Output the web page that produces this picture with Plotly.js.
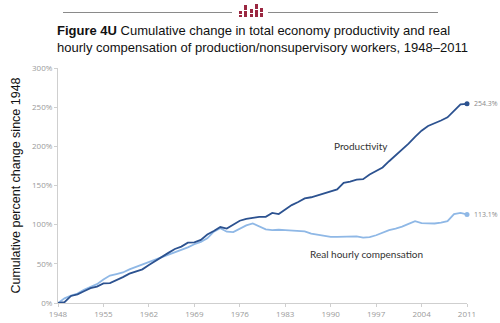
<!DOCTYPE html>
<html>
<head>
<meta charset="utf-8">
<script src="https://cdn.plot.ly/plotly-3.0.1.min.js"></script>
<style>html,body{margin:0;padding:0;background:#fff;}#chart{width:500px;height:323px;}</style>
</head>
<body>
<div id="chart"></div>
<script>
const years = [];
for (let y = 1948; y <= 2011; y++) years.push(y);

const productivity = [
  0, 1, 9, 11, 15, 19, 21, 25, 25.5, 29,
  33, 37.5, 40, 43, 48.5, 54, 59, 64, 69, 72,
  77, 77.5, 80.5, 87.5, 92, 97, 95, 100, 105, 107.5,
  109, 110, 110, 115, 113.5, 119.5, 125, 129, 133.5, 135,
  137.5, 140, 142.5, 145, 153.5, 155, 157.5, 158, 164, 168,
  173, 181, 188.5, 195, 203.5, 212, 220, 226, 229, 233,
  237, 245, 253.5, 254.3
];

const compensation = [
  0, 6, 9.5, 12, 17, 21, 24, 30, 35, 37,
  39, 43, 46, 49.5, 53, 56, 59, 62, 65, 68,
  71, 75, 78, 82.5, 91, 95.5, 91, 90.5, 95, 99,
  101.5, 97.5, 94, 93, 93.5, 93, 92.5, 92, 91.5, 88.5,
  87, 86, 84.5, 84.3, 84.6, 84.8, 85, 83.5, 84, 86.5,
  90, 93, 95, 97.5, 101, 104.5, 102, 101.5, 101.5, 102.5,
  104.5, 113.5, 115, 113.1
];

const xTicks = [1948, 1955, 1962, 1969, 1976, 1983, 1990, 1997, 2004, 2011];
const yTicks = [0, 50, 100, 150, 200, 250, 300];

const darkBlue = '#2c5290';
const lightBlue = '#8fb8e6';

const lastIdx = years.length - 1;

const traces = [
  {x: years, y: compensation, mode: 'lines', line: {color: lightBlue, width: 1.8}, hoverinfo: 'skip'},
  {x: years, y: productivity, mode: 'lines', line: {color: darkBlue, width: 1.8}, hoverinfo: 'skip'},
  {x: [years[lastIdx]], y: [productivity[lastIdx]], mode: 'markers', marker: {color: darkBlue, size: 5}, cliponaxis: false},
  {x: [years[lastIdx]], y: [compensation[lastIdx]], mode: 'markers', marker: {color: lightBlue, size: 5}, cliponaxis: false}
];

// pixel -> paper helpers (plot area: x 58..467, y 68..303)
const L = 58, R = 467, T = 68, B = 303;
const px = v => (v - L) / (R - L);
const py = v => (B - v) / (B - T);

const maroon = '#9b2741';
const shapes = [
  {type: 'line', xref: 'paper', yref: 'paper', x0: px(63), x1: px(232), y0: py(12.5), y1: py(12.5), line: {color: '#8a8a8a', width: 1}},
  {type: 'line', xref: 'paper', yref: 'paper', x0: px(268), x1: px(438), y0: py(12.5), y1: py(12.5), line: {color: '#8a8a8a', width: 1}}
];
const logoRects = [
  [239, 11, 242, 14], [239, 15, 242, 17],
  [244, 5, 247, 10], [244, 11, 247, 17],
  [250, 9, 253, 13], [250, 14, 253, 17],
  [255, 4, 258, 9], [255, 10, 258, 17],
  [260, 8, 263, 12], [260, 13, 263, 17]
];
logoRects.forEach(r => shapes.push({
  type: 'rect', xref: 'paper', yref: 'paper',
  x0: px(r[0]), x1: px(r[2]), y0: py(r[3]), y1: py(r[1]),
  fillcolor: maroon, line: {width: 0}
}));

const tickFont = {family: 'Open Sans, sans-serif', size: 8, color: '#9a9a9a'};

const annotations = [
  {xref: 'paper', yref: 'paper', x: px(55), y: py(21), xanchor: 'left', yanchor: 'top', showarrow: false, align: 'left',
   text: '<b>Figure 4U</b> Cumulative change in total economy productivity and real<br>hourly compensation of production/nonsupervisory workers, 1948–2011',
   font: {family: 'Liberation Sans, Arial, sans-serif', size: 13, color: '#111'}},
  {x: 1994.7, y: 201, text: 'Productivity', showarrow: false, font: {family: 'Lato, sans-serif', size: 10, color: '#333'}},
  {x: 1995.5, y: 62, text: 'Real hourly compensation', showarrow: false, font: {family: 'Lato, sans-serif', size: 10, color: '#333'}},
  {x: 2011, y: productivity[lastIdx], text: productivity[lastIdx].toFixed(1) + '%', xanchor: 'left', xshift: 5, showarrow: false, font: {family: 'Open Sans, sans-serif', size: 7, color: '#8a8a8a'}},
  {x: 2011, y: compensation[lastIdx], text: compensation[lastIdx].toFixed(1) + '%', xanchor: 'left', xshift: 5, showarrow: false, font: {family: 'Open Sans, sans-serif', size: 7, color: '#8a8a8a'}}
];

const layout = {
  width: 500, height: 323,
  margin: {l: L, r: 500 - R, t: T, b: 323 - B, pad: 0},
  paper_bgcolor: '#fff', plot_bgcolor: '#fff',
  showlegend: false,
  xaxis: {
    range: [1948, 2011], tickvals: xTicks, ticktext: xTicks.map(String),
    showgrid: false, zeroline: false, showline: true, linecolor: '#cfcfcf', linewidth: 1,
    ticks: 'outside', ticklen: 3, tickcolor: '#cfcfcf', tickfont: tickFont
  },
  yaxis: {
    range: [0, 300], tickvals: yTicks, ticktext: yTicks.map(v => v + '%'),
    showgrid: false, zeroline: false, showline: true, linecolor: '#cfcfcf', linewidth: 1,
    ticks: 'outside', ticklen: 3, tickcolor: '#cfcfcf', tickfont: tickFont,
    title: {text: 'Cumulative percent change since 1948', font: {family: 'Liberation Sans, Arial, sans-serif', size: 12.5, color: '#111'}, standoff: 8}
  },
  shapes: shapes,
  annotations: annotations
};

Plotly.newPlot('chart', traces, layout, {displayModeBar: false, staticPlot: true});
</script>
</body>
</html>
